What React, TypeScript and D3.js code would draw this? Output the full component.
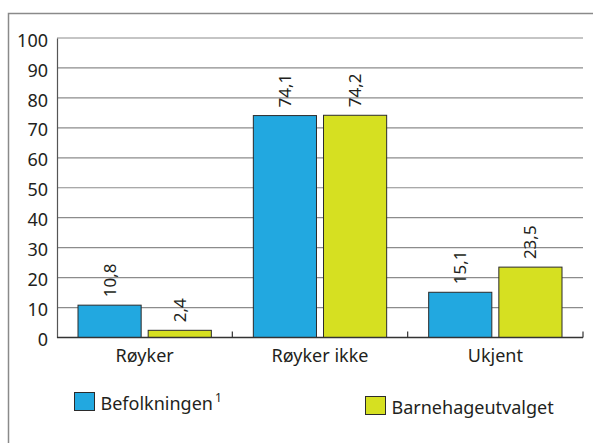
import React, {useRef, useEffect} from "react"
import * as d3 from "d3"

const categories = ["Røyker", "Røyker ikke", "Ukjent"]
const seriesNames = ["Befolkningen", "Barnehageutvalget"]
const befolkningen = [10.8, 74.1, 15.1]
const barnehage = [2.4, 74.2, 23.5]
const yTicks = [0, 10, 20, 30, 40, 50, 60, 70, 80, 90, 100]

const colors = ["#22a8e0", "#d6e021"]
const font = "'Noto Sans', sans-serif"
const textColor = "#231f20"

const App = () => {
    let element = useRef<SVGSVGElement | null>(null)

    useEffect(() => {
        const svg = d3.select(element.current)
        svg.selectAll("*").remove()

        const margin = {top: 38, left: 57}
        const plotRight = 583, plotBottom = 337.5

        // frame (runs off the image to the right and bottom)
        svg.append("rect")
            .attr("x", 8.5).attr("y", 13.5)
            .attr("width", 600).attr("height", 450)
            .attr("fill", "none")
            .attr("stroke", "#8a8a8a")
            .attr("stroke-width", 1.5)

        const x = d3.scaleBand()
            .domain(categories)
            .range([margin.left, plotRight])
            .padding(0)

        const inner = d3.scaleBand()
            .domain(seriesNames)
            .range([21, x.bandwidth() - 21])
            .paddingInner(0.1)
            .paddingOuter(0)

        const y = d3.scaleLinear()
            .domain([0, 100])
            .range([plotBottom, margin.top])

        // gridlines
        svg.append("g")
            .selectAll("line")
            .data(yTicks.filter(d => d > 0))
            .enter()
                .append("line")
                .attr("x1", margin.left)
                .attr("x2", plotRight)
                .attr("y1", d => y(d))
                .attr("y2", d => y(d))
                .attr("stroke", "#8c8c8c")
                .attr("stroke-width", 1.2)

        // y axis
        const yAxis = svg.append("g")
            .attr("transform", "translate(" + margin.left + ",0)")
            .call(d3.axisLeft(y).tickValues(yTicks).tickSize(0).tickPadding(9))
        yAxis.select(".domain").attr("stroke", "#555").attr("stroke-width", 1.2)
        yAxis.selectAll("text")
            .attr("font-family", font)
            .attr("font-size", 18)
            .attr("fill", textColor)
            .attr("dy", "0.45em")

        const series = [befolkningen, barnehage]

        // bars
        series.forEach((values, si) => {
            const g = svg.append("g")
            g.selectAll("rect")
                .data(values)
                .enter()
                    .append("rect")
                    .attr("x", (d, i) => x(categories[i])! + inner(seriesNames[si])!)
                    .attr("y", d => y(d))
                    .attr("width", inner.bandwidth())
                    .attr("height", d => y(0) - y(d))
                    .attr("fill", colors[si])
                    .attr("stroke", "#2b2b2b")
                    .attr("stroke-width", 1)

            g.selectAll("text")
                .data(values)
                .enter()
                    .append("text")
                    .attr("transform", (d, i) => {
                        const cx = x(categories[i])! + inner(seriesNames[si])! + inner.bandwidth() / 2
                        return "translate(" + (cx + 6) + "," + (y(d) - 8) + ") rotate(-90)"
                    })
                    .attr("text-anchor", "start")
                    .attr("font-family", font)
                    .attr("font-size", 17)
                    .attr("fill", textColor)
                    .text(d => d3.format(".1f")(d).replace(".", ","))
        })

        // x axis
        const xAxis = svg.append("g")
            .attr("transform", "translate(0," + plotBottom + ")")
        xAxis.append("line")
            .attr("x1", margin.left).attr("x2", plotRight)
            .attr("stroke", "#333").attr("stroke-width", 1.5)
        xAxis.selectAll(".tick")
            .data(categories)
            .enter()
                .append("line")
                .attr("x1", d => x(d)! + x.bandwidth())
                .attr("x2", d => x(d)! + x.bandwidth())
                .attr("y1", 0).attr("y2", -6)
                .attr("stroke", "#333").attr("stroke-width", 1.2)
        xAxis.selectAll("text")
            .data(categories)
            .enter()
                .append("text")
                .attr("x", d => x(d)! + x.bandwidth() / 2)
                .attr("y", 24)
                .attr("text-anchor", "middle")
                .attr("font-family", font)
                .attr("font-size", 18)
                .attr("fill", textColor)
                .text(d => d)

        // legend
        const legendItems = [
            {name: seriesNames[0], sup: "1", x: 74.5, y: 392.5},
            {name: seriesNames[1], sup: "", x: 365.5, y: 396.5},
        ]
        legendItems.forEach((item, i) => {
            svg.append("rect")
                .attr("x", item.x).attr("y", item.y)
                .attr("width", 20).attr("height", 18)
                .attr("fill", colors[i])
                .attr("stroke", "#2b2b2b")
                .attr("stroke-width", 1)
            const t = svg.append("text")
                .attr("x", item.x + 26)
                .attr("y", item.y + 17.5)
                .attr("font-family", font)
                .attr("font-size", 18)
                .attr("fill", textColor)
                .text(item.name)
            if (item.sup) {
                t.append("tspan")
                    .attr("dx", 2)
                    .attr("dy", -8)
                    .attr("font-size", 12)
                    .text(item.sup)
            }
        })
    })

    return (
        <svg ref={element} width={593} height={443}
            style={{position: "absolute", left: 0, top: 0, background: "#fff"}} />
    )
}

export default App
